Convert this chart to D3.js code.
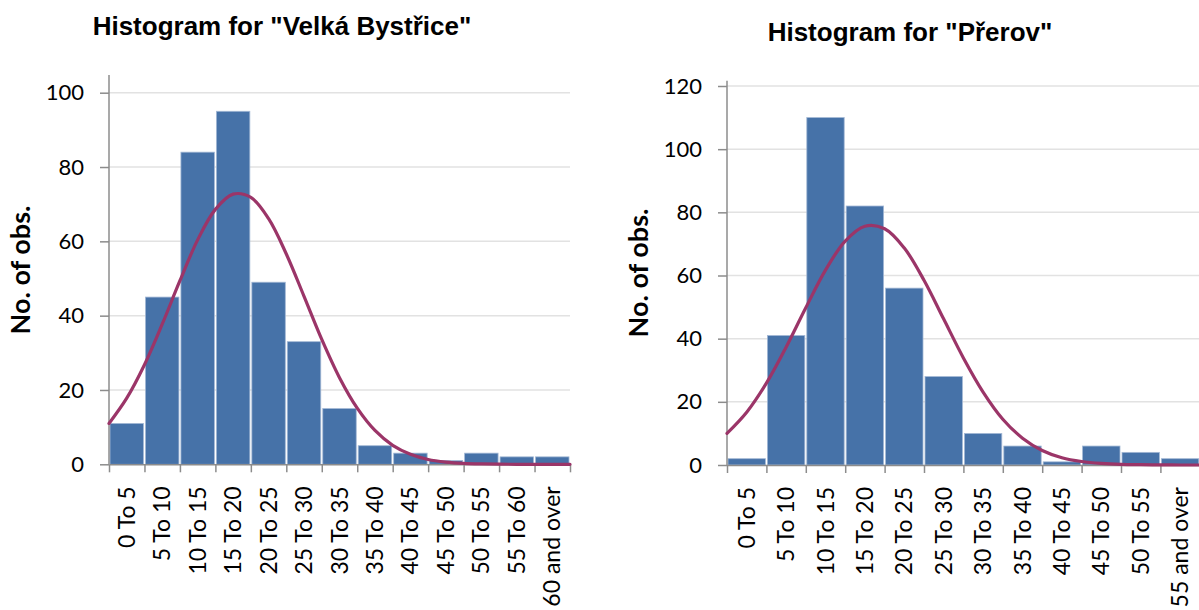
<!DOCTYPE html>
<html>
<head>
<meta charset="utf-8">
<script src="https://cdn.jsdelivr.net/npm/d3@7"></script>
<style>
  body { margin: 0; background: #fff; }
  svg { display: block; }
</style>
</head>
<body>
<div id="chart"></div>
<script>
const width = 1199;
const height = 610;

// Velká Bystřice
const vbLabels = ["0 To 5", "5 To 10", "10 To 15", "15 To 20", "20 To 25", "25 To 30", "30 To 35",
    "35 To 40", "40 To 45", "45 To 50", "50 To 55", "55 To 60", "60 and over"];
const vbCounts = [11, 45, 84, 95, 49, 33, 15, 5, 3, 1, 3, 2, 2];
// fitted normal curve, read every 2.5 units from 0 to 65
const vbCurve = [11.0, 17.8, 26.8, 37.7, 49.4, 60.4, 68.6, 72.7, 71.8, 66.1, 56.6, 45.2, 33.6, 23.3,
    15.1, 9.1, 5.1, 2.7, 1.3, 0.6, 0.25, 0.1, 0.04, 0, 0, 0, 0];
const vbTicks = [0, 20, 40, 60, 80, 100];

// Přerov
const prLabels = ["0 To 5", "5 To 10", "10 To 15", "15 To 20", "20 To 25", "25 To 30", "30 To 35",
    "35 To 40", "40 To 45", "45 To 50", "50 To 55", "55 and over"];
const prCounts = [2, 41, 110, 82, 56, 28, 10, 6, 1, 6, 4, 2];
// fitted normal curve, read every 2.5 units from 0 to 60
const prCurve = [10.0, 16.7, 25.9, 37.3, 49.8, 61.7, 70.9, 75.6, 74.8, 68.7, 58.5, 46.2, 33.9, 23.1,
    14.5, 8.5, 4.6, 2.3, 1.1, 0.5, 0.2, 0.1, 0.03, 0, 0];
const prTicks = [0, 20, 40, 60, 80, 100, 120];

const binWidth = 5;
const curveStep = 2.5;

const barColor = "#4672a8";
const lineColor = "#9b3568";
const gridColor = "#e2e2e2";
const axisColor = "#8c8c8c";
const tickFont = "Lato, 'Open Sans', sans-serif";

const svg = d3.select("#chart")
    .append("svg")
    .attr("width", width)
    .attr("height", height);

function drawHistogram(cfg) {
    const n = cfg.counts.length;
    const x = d3.scaleLinear()
        .domain([0, n * binWidth])
        .range([cfg.left, cfg.right]);
    const y = d3.scaleLinear()
        .domain([0, cfg.yMax])
        .range([cfg.bottom, cfg.top]);

    const g = svg.append("g");

    // gridlines
    g.selectAll(".grid")
        .data(cfg.ticks.slice(1))
        .enter()
        .append("line")
        .attr("x1", cfg.left)
        .attr("x2", cfg.gridEnd)
        .attr("y1", d => y(d))
        .attr("y2", d => y(d))
        .style("stroke", gridColor)
        .style("stroke-width", 1.5);

    // bars
    g.selectAll(".bar")
        .data(cfg.counts)
        .enter()
        .append("rect")
        .attr("x", (d, i) => x(i * binWidth) + 1)
        .attr("width", (d, i) => x((i + 1) * binWidth) - x(i * binWidth) - 2)
        .attr("y", d => y(d))
        .attr("height", d => y(0) - y(d))
        .style("fill", barColor)
        .style("stroke", "#a3b8d5")
        .style("stroke-width", 0.8);

    // y axis
    const yAxis = g.append("g")
        .attr("transform", `translate(${cfg.left},0)`)
        .call(d3.axisLeft(y).tickValues(cfg.ticks).tickSize(9).tickPadding(16).tickSizeOuter(0));
    yAxis.select(".domain")
        .attr("d", `M0,${cfg.bottom}V${cfg.axisTop}`);

    // x axis
    const xAxis = g.append("g")
        .attr("transform", `translate(0,${cfg.bottom})`)
        .call(d3.axisBottom(x).tickValues(d3.range(0, n + 1).map(i => i * binWidth))
            .tickSize(8).tickFormat("").tickSizeOuter(0));

    [yAxis, xAxis].forEach(a => {
        a.selectAll("path, line").style("stroke", axisColor).style("stroke-width", 1.5);
        a.selectAll("text")
            .style("font-family", tickFont)
            .style("font-size", "22px")
            .style("fill", "#000");
    });

    // rotated category labels
    g.selectAll(".xlab")
        .data(cfg.labels)
        .enter()
        .append("text")
        .attr("transform", (d, i) => `translate(${x((i + 0.5) * binWidth)},${cfg.bottom + 22}) rotate(-90)`)
        .attr("dy", "0.35em")
        .style("text-anchor", "end")
        .style("font-family", tickFont)
        .style("font-size", "23px")
        .style("fill", "#000")
        .text(d => d);

    // normal curve
    const line = d3.line()
        .x((d, i) => x(i * curveStep))
        .y(d => y(d))
        .curve(d3.curveCatmullRom.alpha(0.5));
    g.append("path")
        .datum(cfg.curve)
        .attr("d", line)
        .style("fill", "none")
        .style("stroke", lineColor)
        .style("stroke-width", 3.2)
        .style("stroke-linecap", "round");

    // y title
    g.append("text")
        .attr("transform", `translate(${cfg.yTitleX},${cfg.yTitleY}) rotate(-90)`)
        .attr("dy", "0.35em")
        .style("text-anchor", "middle")
        .style("font-family", tickFont)
        .style("font-weight", "bold")
        .style("font-size", "27px")
        .text("No. of obs.");

    // chart title
    g.append("text")
        .attr("x", cfg.titleX)
        .attr("y", cfg.titleY)
        .style("text-anchor", "middle")
        .style("font-family", "'Liberation Sans', Arial, sans-serif")
        .style("font-weight", "bold")
        .style("font-size", "26px")
        .text(cfg.title);
}

drawHistogram({
    title: 'Histogram for "Velká Bystřice"',
    labels: vbLabels,
    counts: vbCounts,
    curve: vbCurve,
    ticks: vbTicks,
    yMax: 100,
    left: 109, right: 570, gridEnd: 570,
    bottom: 464.3, top: 92.7, axisTop: 75,
    titleX: 282, titleY: 35,
    yTitleX: 21, yTitleY: 270
});

drawHistogram({
    title: 'Histogram for "Přerov"',
    labels: prLabels,
    counts: prCounts,
    curve: prCurve,
    ticks: prTicks,
    yMax: 120,
    left: 727, right: 1199.8, gridEnd: 1199,
    bottom: 465, top: 86, axisTop: 80.7,
    titleX: 910, titleY: 40.5,
    yTitleX: 639, yTitleY: 273
});
</script>
</body>
</html>
